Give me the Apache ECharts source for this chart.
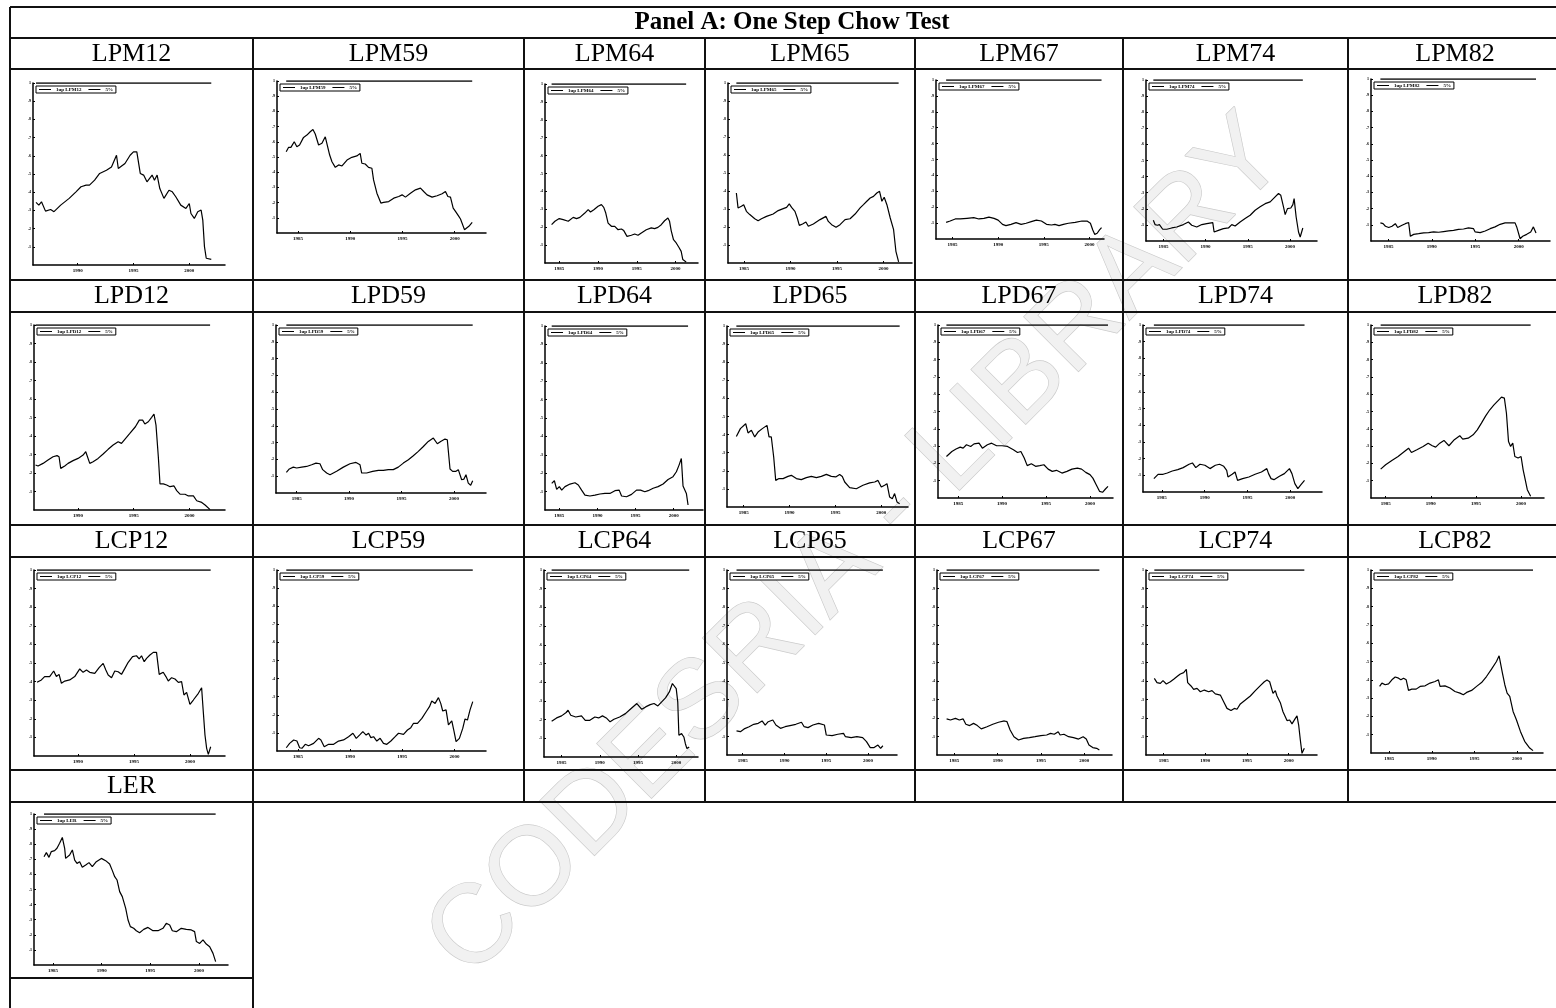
<!DOCTYPE html>
<html>
<head>
<meta charset="utf-8">
<script src="https://cdn.jsdelivr.net/npm/echarts@6/dist/echarts.min.js"></script>
<style>
  html, body { margin: 0; padding: 0; background: #fff; }
  #chart { width: 1556px; height: 1008px; }
</style>
</head>
<body>
<div id="chart"></div>
<script>
// One-step Chow statistics, scaled so that 1 = 5% critical value; x = year.
const lpm12 = [[1986.27,0.344],[1986.52,0.329],[1986.76,0.347],[1987.12,0.296],[1987.58,0.305],[1987.88,0.293],[1988.48,0.329],[1989.24,0.366],[1989.85,0.402],[1990.30,0.430],[1990.76,0.439],[1991.06,0.439],[1991.52,0.466],[1991.97,0.503],[1992.58,0.521],[1993.03,0.539],[1993.48,0.603],[1993.64,0.530],[1994.24,0.558],[1994.70,0.603],[1995.00,0.622],[1995.30,0.622],[1995.61,0.503],[1995.91,0.494],[1996.21,0.457],[1996.67,0.494],[1996.88,0.466],[1997.12,0.494],[1997.36,0.420],[1997.73,0.366],[1998.18,0.411],[1998.48,0.402],[1998.79,0.375],[1999.24,0.329],[1999.70,0.311],[2000.00,0.338],[2000.15,0.283],[2000.45,0.256],[2000.76,0.293],[2001.06,0.302],[2001.21,0.247],[2001.36,0.101],[2001.52,0.037],[2001.67,0.027],[2001.97,0.031]];
const lpm59 = [[1983.88,0.535],[1984.10,0.563],[1984.33,0.563],[1984.65,0.600],[1984.90,0.568],[1985.16,0.579],[1985.54,0.629],[1985.86,0.644],[1986.18,0.666],[1986.44,0.681],[1986.66,0.651],[1986.98,0.579],[1987.30,0.590],[1987.62,0.633],[1987.78,0.629],[1988.04,0.513],[1988.26,0.469],[1988.58,0.432],[1988.90,0.448],[1989.22,0.441],[1989.70,0.480],[1990.16,0.498],[1990.64,0.507],[1990.96,0.524],[1991.12,0.459],[1991.44,0.454],[1991.76,0.432],[1992.08,0.426],[1992.24,0.349],[1992.56,0.262],[1992.94,0.197],[1993.20,0.201],[1993.69,0.207],[1994.17,0.229],[1994.65,0.240],[1994.97,0.251],[1995.29,0.236],[1995.77,0.262],[1996.25,0.284],[1996.73,0.295],[1997.04,0.273],[1997.36,0.251],[1997.84,0.236],[1998.32,0.245],[1998.80,0.258],[1999.12,0.273],[1999.35,0.240],[1999.60,0.236],[1999.86,0.164],[2000.08,0.142],[2000.24,0.153],[2000.40,0.109],[2000.56,0.092],[2000.72,0.092],[2000.94,0.022],[2001.36,0.044],[2001.68,0.070]];
const lpm64 = [[1984.01,0.214],[1984.44,0.233],[1985.00,0.248],[1985.51,0.242],[1986.16,0.233],[1986.80,0.255],[1987.23,0.248],[1987.66,0.255],[1988.30,0.279],[1988.73,0.298],[1989.03,0.285],[1989.46,0.298],[1990.01,0.317],[1990.44,0.326],[1990.74,0.311],[1991.00,0.279],[1991.30,0.223],[1991.73,0.205],[1992.16,0.205],[1992.59,0.186],[1993.02,0.190],[1993.32,0.181],[1993.57,0.192],[1993.74,0.149],[1994.30,0.155],[1994.73,0.162],[1995.16,0.155],[1995.59,0.168],[1996.23,0.186],[1996.87,0.196],[1997.30,0.192],[1997.73,0.199],[1998.16,0.214],[1998.59,0.236],[1999.02,0.251],[1999.23,0.233],[1999.44,0.181],[1999.74,0.130],[2000.09,0.112],[2000.43,0.088],[2000.73,0.065],[2000.94,0.019],[2001.37,0.006]];
const lpm65 = [[1984.17,0.389],[1984.35,0.306],[1984.71,0.315],[1984.96,0.324],[1985.25,0.287],[1985.61,0.269],[1986.15,0.246],[1986.51,0.235],[1986.87,0.246],[1987.41,0.259],[1988.13,0.272],[1988.67,0.291],[1989.21,0.302],[1989.57,0.309],[1989.86,0.328],[1990.11,0.309],[1990.47,0.287],[1990.72,0.250],[1990.94,0.209],[1991.29,0.217],[1991.65,0.228],[1991.91,0.204],[1992.45,0.217],[1993.17,0.241],[1993.81,0.259],[1994.06,0.231],[1994.42,0.213],[1994.89,0.198],[1995.32,0.213],[1995.86,0.241],[1996.40,0.246],[1996.94,0.272],[1997.48,0.306],[1997.84,0.324],[1998.20,0.343],[1998.56,0.361],[1998.92,0.370],[1999.28,0.389],[1999.57,0.398],[1999.82,0.343],[2000.07,0.365],[2000.36,0.324],[2000.72,0.250],[2001.08,0.185],[2001.33,0.065],[2001.62,0.006]];
const lpm67 = [[1984.30,0.105],[1984.74,0.113],[1985.30,0.126],[1985.85,0.126],[1986.59,0.130],[1987.33,0.134],[1987.89,0.126],[1988.44,0.130],[1988.99,0.138],[1989.55,0.130],[1990.00,0.119],[1990.48,0.092],[1990.85,0.084],[1991.41,0.092],[1991.96,0.103],[1992.52,0.092],[1993.07,0.099],[1993.63,0.109],[1994.19,0.119],[1994.74,0.113],[1995.30,0.092],[1995.85,0.088],[1996.22,0.092],[1996.67,0.084],[1997.15,0.092],[1997.70,0.099],[1998.44,0.105],[1999.19,0.113],[1999.74,0.113],[2000.11,0.099],[2000.37,0.057],[2000.59,0.029],[2000.85,0.036],[2001.11,0.057],[2001.33,0.071]];
const lpm74 = [[1983.81,0.129],[1984.01,0.102],[1984.29,0.098],[1984.53,0.102],[1984.68,0.093],[1984.92,0.073],[1985.40,0.073],[1985.99,0.081],[1986.58,0.087],[1987.37,0.102],[1987.96,0.118],[1988.36,0.098],[1988.95,0.087],[1989.55,0.102],[1990.14,0.108],[1990.85,0.114],[1991.01,0.056],[1991.52,0.066],[1992.11,0.077],[1992.71,0.081],[1993.10,0.102],[1993.50,0.093],[1994.09,0.118],[1994.68,0.139],[1995.28,0.160],[1995.87,0.191],[1996.46,0.212],[1997.06,0.232],[1997.65,0.243],[1998.12,0.268],[1998.64,0.295],[1998.91,0.284],[1999.23,0.212],[1999.43,0.164],[1999.70,0.201],[2000.10,0.205],[2000.34,0.226],[2000.49,0.263],[2000.73,0.149],[2001.01,0.056],[2001.21,0.025],[2001.52,0.081]];
const lpm82 = [[1984.08,0.112],[1984.39,0.107],[1984.66,0.091],[1985.04,0.083],[1985.42,0.091],[1985.80,0.107],[1986.07,0.083],[1986.57,0.097],[1986.95,0.107],[1987.33,0.114],[1987.53,0.029],[1987.91,0.041],[1988.48,0.045],[1989.06,0.050],[1989.63,0.052],[1990.20,0.056],[1990.78,0.054],[1991.35,0.058],[1991.93,0.062],[1992.50,0.066],[1993.07,0.072],[1993.65,0.074],[1994.22,0.081],[1994.80,0.076],[1994.99,0.056],[1995.56,0.052],[1996.14,0.062],[1996.71,0.076],[1997.28,0.087],[1997.86,0.103],[1998.43,0.112],[1999.01,0.112],[1999.58,0.112],[1999.77,0.087],[2000.16,0.014],[2000.46,0.029],[2000.92,0.041],[2001.38,0.056],[2001.69,0.087],[2001.99,0.050]];

const lpd12 = [[1986.18,0.243],[1986.40,0.238],[1986.85,0.252],[1987.30,0.270],[1987.75,0.288],[1988.11,0.294],[1988.29,0.288],[1988.44,0.225],[1988.80,0.238],[1989.10,0.252],[1989.55,0.267],[1990.00,0.279],[1990.45,0.297],[1990.69,0.315],[1990.81,0.306],[1991.05,0.252],[1991.35,0.261],[1991.80,0.279],[1992.25,0.303],[1992.70,0.328],[1993.15,0.351],[1993.60,0.369],[1993.90,0.360],[1994.20,0.382],[1994.65,0.414],[1995.15,0.450],[1995.50,0.486],[1995.80,0.486],[1996.00,0.465],[1996.31,0.477],[1996.61,0.501],[1996.82,0.519],[1997.00,0.459],[1997.21,0.288],[1997.36,0.141],[1997.66,0.141],[1997.96,0.135],[1998.26,0.126],[1998.62,0.130],[1998.86,0.105],[1999.16,0.086],[1999.61,0.085],[1999.91,0.076],[2000.36,0.076],[2000.66,0.050],[2001.11,0.041],[2001.41,0.027],[2001.86,0.002]];
const lpd59 = [[1984.02,0.123],[1984.30,0.143],[1984.68,0.154],[1985.00,0.149],[1985.48,0.154],[1985.95,0.158],[1986.43,0.168],[1986.84,0.178],[1987.22,0.174],[1987.48,0.139],[1987.86,0.119],[1988.18,0.109],[1988.81,0.129],[1989.45,0.154],[1990.08,0.174],[1990.66,0.182],[1991.04,0.168],[1991.20,0.119],[1991.67,0.119],[1992.24,0.129],[1992.79,0.135],[1993.26,0.135],[1993.74,0.139],[1994.21,0.139],[1994.69,0.154],[1995.17,0.178],[1995.65,0.198],[1996.12,0.222],[1996.60,0.248],[1997.08,0.277],[1997.55,0.307],[1998.03,0.327],[1998.41,0.293],[1998.73,0.307],[1999.14,0.321],[1999.36,0.317],[1999.62,0.143],[1999.87,0.129],[2000.19,0.129],[2000.41,0.139],[2000.73,0.079],[2000.95,0.083],[2001.14,0.109],[2001.36,0.059],[2001.59,0.046],[2001.78,0.073]];
const lpd64 = [[1984.00,0.145],[1984.35,0.159],[1984.65,0.112],[1985.00,0.127],[1985.31,0.108],[1985.74,0.127],[1986.40,0.141],[1987.05,0.148],[1987.49,0.136],[1987.92,0.108],[1988.36,0.081],[1989.01,0.076],[1989.67,0.081],[1990.32,0.087],[1990.98,0.090],[1991.63,0.090],[1992.29,0.105],[1992.85,0.108],[1993.16,0.076],[1993.81,0.072],[1994.47,0.085],[1995.12,0.108],[1995.65,0.108],[1996.21,0.099],[1996.65,0.105],[1997.30,0.118],[1997.95,0.127],[1998.61,0.141],[1999.26,0.166],[1999.91,0.181],[2000.35,0.208],[2000.70,0.244],[2001.00,0.280],[2001.22,0.130],[2001.44,0.127],[2001.66,0.090],[2001.88,0.027]];
const lpd65 = [[1984.20,0.390],[1984.64,0.433],[1985.22,0.460],[1985.47,0.409],[1985.84,0.424],[1986.20,0.387],[1986.56,0.414],[1987.03,0.433],[1987.54,0.451],[1987.76,0.387],[1988.01,0.387],[1988.27,0.276],[1988.49,0.147],[1988.85,0.157],[1989.29,0.157],[1989.83,0.169],[1990.19,0.175],[1990.74,0.157],[1991.28,0.151],[1991.83,0.162],[1992.37,0.169],[1992.92,0.162],[1993.46,0.169],[1994.01,0.180],[1994.55,0.169],[1995.03,0.166],[1995.46,0.180],[1995.75,0.169],[1996.01,0.138],[1996.55,0.107],[1997.28,0.101],[1998.00,0.120],[1998.73,0.133],[1999.28,0.138],[1999.64,0.147],[2000.00,0.110],[2000.36,0.120],[2000.62,0.129],[2000.91,0.055],[2001.20,0.046],[2001.45,0.074],[2001.71,0.028],[2002.00,0.018]];
const lpd67 = [[1983.67,0.240],[1984.29,0.269],[1984.76,0.283],[1985.24,0.294],[1985.57,0.288],[1985.95,0.308],[1986.43,0.298],[1986.81,0.313],[1987.38,0.317],[1987.76,0.288],[1988.33,0.308],[1988.81,0.317],[1989.38,0.302],[1990.00,0.302],[1990.62,0.298],[1991.29,0.279],[1991.76,0.263],[1992.14,0.269],[1992.52,0.231],[1992.86,0.187],[1993.33,0.198],[1993.81,0.183],[1994.29,0.187],[1994.76,0.192],[1995.24,0.167],[1995.71,0.154],[1996.19,0.160],[1996.81,0.144],[1997.38,0.154],[1997.95,0.167],[1998.57,0.173],[1999.05,0.167],[1999.52,0.148],[2000.00,0.135],[2000.33,0.115],[2000.71,0.077],[2001.10,0.038],[2001.43,0.033],[2001.76,0.052],[2002.05,0.067]];
const lpd74 = [[1984.07,0.080],[1984.56,0.106],[1985.15,0.106],[1985.64,0.114],[1986.22,0.126],[1986.86,0.134],[1987.49,0.146],[1988.18,0.166],[1988.57,0.174],[1988.96,0.146],[1989.45,0.166],[1990.03,0.160],[1990.62,0.140],[1991.25,0.160],[1991.74,0.166],[1992.23,0.154],[1992.57,0.130],[1992.72,0.090],[1993.21,0.106],[1993.55,0.120],[1993.84,0.070],[1994.43,0.080],[1995.16,0.090],[1995.89,0.106],[1996.63,0.120],[1997.26,0.140],[1997.46,0.110],[1997.75,0.080],[1998.09,0.074],[1998.73,0.094],[1999.31,0.110],[1999.90,0.140],[2000.19,0.110],[2000.53,0.050],[2000.88,0.020],[2001.27,0.046],[2001.66,0.070]];
const lpd82 = [[1984.45,0.167],[1985.00,0.192],[1985.69,0.217],[1986.38,0.240],[1987.08,0.269],[1987.54,0.288],[1987.86,0.263],[1988.46,0.279],[1989.15,0.298],[1989.71,0.317],[1990.17,0.302],[1990.54,0.294],[1991.00,0.317],[1991.46,0.333],[1992.01,0.302],[1992.61,0.337],[1993.21,0.360],[1993.54,0.340],[1994.14,0.346],[1994.69,0.365],[1995.15,0.394],[1995.61,0.433],[1996.08,0.475],[1996.54,0.510],[1997.00,0.538],[1997.46,0.563],[1997.83,0.583],[1998.15,0.577],[1998.38,0.490],[1998.61,0.327],[1998.84,0.298],[1999.08,0.317],[1999.31,0.240],[1999.67,0.231],[2000.00,0.240],[2000.23,0.163],[2000.46,0.106],[2000.69,0.048],[2001.06,0.010]];

const lcp12 = [[1986.33,0.396],[1986.72,0.409],[1987.01,0.427],[1987.46,0.427],[1987.82,0.457],[1988.06,0.427],[1988.30,0.439],[1988.51,0.391],[1988.81,0.403],[1989.25,0.409],[1989.70,0.427],[1990.15,0.468],[1990.45,0.450],[1990.75,0.462],[1991.04,0.450],[1991.49,0.444],[1991.88,0.475],[1992.24,0.498],[1992.48,0.462],[1992.69,0.435],[1992.99,0.421],[1993.28,0.457],[1993.58,0.453],[1993.88,0.439],[1994.18,0.471],[1994.48,0.504],[1994.87,0.534],[1995.22,0.539],[1995.46,0.522],[1995.67,0.539],[1995.91,0.507],[1996.12,0.525],[1996.42,0.543],[1996.72,0.557],[1997.01,0.557],[1997.25,0.439],[1997.61,0.450],[1997.85,0.427],[1998.06,0.403],[1998.36,0.421],[1998.66,0.414],[1998.96,0.396],[1999.25,0.400],[1999.46,0.328],[1999.70,0.342],[2000.00,0.278],[2000.30,0.301],[2000.75,0.337],[2001.04,0.367],[2001.19,0.238],[2001.34,0.113],[2001.49,0.041],[2001.64,0.009],[2001.85,0.050]];
const lcp59 = [[1983.88,0.018],[1984.20,0.042],[1984.59,0.061],[1984.90,0.055],[1985.16,0.018],[1985.38,0.015],[1985.70,0.037],[1986.02,0.029],[1986.50,0.042],[1986.98,0.070],[1987.20,0.061],[1987.52,0.024],[1987.94,0.037],[1988.42,0.037],[1988.89,0.055],[1989.37,0.061],[1989.85,0.079],[1990.27,0.098],[1990.59,0.070],[1990.90,0.088],[1991.22,0.107],[1991.54,0.088],[1991.77,0.098],[1991.99,0.074],[1992.25,0.079],[1992.56,0.055],[1992.88,0.070],[1993.20,0.042],[1993.52,0.037],[1993.91,0.055],[1994.32,0.079],[1994.64,0.098],[1995.12,0.092],[1995.50,0.116],[1995.82,0.129],[1996.08,0.153],[1996.46,0.153],[1996.88,0.180],[1997.29,0.217],[1997.61,0.245],[1997.83,0.276],[1998.15,0.263],[1998.47,0.295],[1998.69,0.263],[1998.88,0.221],[1999.20,0.227],[1999.43,0.144],[1999.75,0.166],[1999.97,0.107],[2000.16,0.052],[2000.48,0.070],[2000.80,0.125],[2001.02,0.177],[2001.25,0.171],[2001.50,0.227],[2001.76,0.273]];
const lcp64 = [[1983.70,0.191],[1984.35,0.209],[1985.00,0.220],[1985.60,0.238],[1985.85,0.250],[1986.20,0.223],[1986.85,0.214],[1987.60,0.220],[1988.10,0.196],[1988.70,0.196],[1989.35,0.214],[1989.85,0.209],[1990.35,0.220],[1990.85,0.209],[1991.35,0.188],[1991.85,0.202],[1992.60,0.214],[1993.35,0.232],[1994.10,0.259],[1994.85,0.286],[1995.50,0.255],[1996.00,0.268],[1996.60,0.280],[1997.10,0.286],[1997.60,0.273],[1998.10,0.295],[1998.60,0.316],[1999.10,0.348],[1999.50,0.393],[1999.75,0.402],[2000.00,0.366],[2000.20,0.295],[2000.35,0.116],[2000.70,0.125],[2001.00,0.107],[2001.20,0.071],[2001.40,0.045],[2001.70,0.054]];
const lcp65 = [[1984.27,0.130],[1984.73,0.126],[1985.18,0.141],[1985.78,0.153],[1986.33,0.166],[1986.87,0.171],[1987.33,0.184],[1987.70,0.162],[1988.06,0.180],[1988.61,0.189],[1988.98,0.162],[1989.53,0.144],[1990.08,0.153],[1990.67,0.159],[1991.36,0.166],[1992.04,0.177],[1992.36,0.153],[1992.82,0.148],[1993.41,0.162],[1994.10,0.171],[1994.79,0.162],[1995.01,0.108],[1995.70,0.105],[1996.39,0.112],[1997.07,0.117],[1997.30,0.099],[1997.99,0.094],[1998.67,0.099],[1999.36,0.094],[1999.82,0.072],[2000.27,0.040],[2000.73,0.040],[2001.19,0.054],[2001.51,0.036],[2001.78,0.050]];
const lcp67 = [[1984.11,0.195],[1984.55,0.189],[1985.13,0.198],[1985.58,0.189],[1986.02,0.195],[1986.33,0.166],[1986.77,0.159],[1987.22,0.171],[1987.66,0.159],[1988.11,0.141],[1988.77,0.153],[1989.44,0.166],[1990.10,0.177],[1990.77,0.184],[1991.08,0.180],[1991.44,0.135],[1991.88,0.099],[1992.41,0.081],[1992.99,0.090],[1993.66,0.094],[1994.32,0.099],[1994.99,0.105],[1995.66,0.108],[1996.10,0.117],[1996.54,0.112],[1996.99,0.126],[1997.21,0.108],[1997.65,0.112],[1998.19,0.099],[1998.76,0.094],[1999.34,0.086],[1999.87,0.099],[2000.23,0.086],[2000.54,0.054],[2000.98,0.040],[2001.43,0.036],[2001.74,0.027]];
const lcp74 = [[1983.88,0.414],[1984.20,0.391],[1984.60,0.387],[1984.92,0.402],[1985.32,0.384],[1985.80,0.396],[1986.20,0.409],[1986.68,0.427],[1987.00,0.438],[1987.40,0.445],[1987.72,0.463],[1987.88,0.391],[1988.28,0.373],[1988.60,0.355],[1989.00,0.360],[1989.40,0.342],[1989.88,0.351],[1990.40,0.342],[1990.80,0.348],[1991.20,0.330],[1991.80,0.324],[1992.20,0.288],[1992.60,0.252],[1993.08,0.240],[1993.48,0.252],[1993.80,0.247],[1994.20,0.276],[1994.80,0.297],[1995.40,0.319],[1996.00,0.348],[1996.60,0.375],[1997.08,0.396],[1997.40,0.405],[1997.72,0.396],[1997.96,0.391],[1998.12,0.333],[1998.40,0.348],[1998.60,0.319],[1999.00,0.283],[1999.32,0.234],[1999.80,0.186],[2000.12,0.189],[2000.40,0.168],[2000.80,0.198],[2001.00,0.211],[2001.20,0.162],[2001.40,0.081],[2001.60,0.009],[2001.88,0.036]];
const lcp82 = [[1983.87,0.364],[1984.14,0.382],[1984.53,0.373],[1984.92,0.378],[1985.31,0.400],[1985.70,0.415],[1986.09,0.409],[1986.36,0.400],[1986.68,0.409],[1986.99,0.400],[1987.26,0.342],[1987.65,0.349],[1988.16,0.349],[1988.62,0.364],[1989.21,0.367],[1989.79,0.382],[1990.38,0.391],[1990.77,0.400],[1990.96,0.364],[1991.54,0.367],[1992.13,0.355],[1992.71,0.336],[1993.30,0.327],[1993.69,0.318],[1994.08,0.331],[1994.66,0.342],[1995.25,0.364],[1995.83,0.385],[1996.41,0.418],[1997.00,0.458],[1997.58,0.500],[1997.89,0.531],[1998.05,0.536],[1998.28,0.436],[1998.56,0.373],[1998.83,0.327],[1999.14,0.309],[1999.53,0.227],[1999.92,0.182],[2000.39,0.118],[2000.89,0.064],[2001.48,0.027],[2001.87,0.013]];

const ler = [[1984.08,0.717],[1984.32,0.744],[1984.59,0.713],[1984.83,0.751],[1985.17,0.757],[1985.41,0.773],[1985.68,0.806],[1985.96,0.845],[1986.20,0.773],[1986.30,0.706],[1986.71,0.728],[1986.99,0.762],[1987.23,0.695],[1987.47,0.673],[1987.74,0.684],[1988.01,0.647],[1988.36,0.662],[1988.70,0.678],[1989.04,0.651],[1989.45,0.684],[1989.97,0.706],[1990.41,0.691],[1990.82,0.669],[1991.10,0.625],[1991.34,0.585],[1991.58,0.563],[1991.85,0.486],[1992.12,0.453],[1992.47,0.375],[1992.71,0.298],[1992.95,0.254],[1993.29,0.243],[1993.56,0.227],[1993.90,0.214],[1994.32,0.236],[1994.76,0.249],[1995.27,0.227],[1995.79,0.227],[1996.30,0.243],[1996.64,0.276],[1996.99,0.265],[1997.26,0.227],[1997.67,0.221],[1998.18,0.243],[1998.70,0.236],[1999.21,0.232],[1999.55,0.221],[1999.73,0.155],[2000.07,0.143],[2000.41,0.166],[2000.75,0.139],[2001.10,0.121],[2001.44,0.077],[2001.71,0.022]];

// Panel order (row by row) and the series drawn in each panel
const panelNames = ['LPM12','LPM59','LPM64','LPM65','LPM67','LPM74','LPM82',
                    'LPD12','LPD59','LPD64','LPD65','LPD67','LPD74','LPD82',
                    'LCP12','LCP59','LCP64','LCP65','LCP67','LCP74','LCP82',
                    'LER'];
const panelData = {
  LPM12: lpm12, LPM59: lpm59, LPM64: lpm64, LPM65: lpm65, LPM67: lpm67, LPM74: lpm74, LPM82: lpm82,
  LPD12: lpd12, LPD59: lpd59, LPD64: lpd64, LPD65: lpd65, LPD67: lpd67, LPD74: lpd74, LPD82: lpd82,
  LCP12: lcp12, LCP59: lcp59, LCP64: lcp64, LCP65: lcp65, LCP67: lcp67, LCP74: lcp74, LCP82: lcp82,
  LER: ler
};
// x-axis extent (years) of each panel
const xExtent = {
  LPM12: [1986.0, 2003.2], LPM59: [1983.0, 2003.0], LPM64: [1983.16, 2002.9], LPM65: [1983.27, 2003.06],
  LPM67: [1983.19, 2001.6], LPM74: [1982.94, 2003.2], LPM82: [1983.0, 2003.6],
  LPD12: [1986.04, 2003.2], LPD59: [1983.03, 2003.05], LPD64: [1983.12, 2003.84], LPD65: [1983.18, 2002.91],
  LPD67: [1982.71, 2002.62], LPD74: [1982.8, 2003.7], LPD82: [1983.38, 2002.54],
  LCP12: [1986.06, 2003.13], LCP59: [1982.99, 2003.03], LCP64: [1982.7, 2002.85], LCP65: [1983.13, 2003.47],
  LCP67: [1983.0, 2003.2], LCP74: [1982.88, 2003.4], LCP82: [1982.86, 2003.04],
  LER: [1983.05, 2002.98]
};
const yearTicks = [1985, 1990, 1995, 2000];
const statTicks = [0.1, 0.2, 0.3, 0.4, 0.5, 0.6, 0.7, 0.8, 0.9, 1];
const critLabel = '5%';
const panelTitle = 'Panel A: One Step Chow Test';
const watermark = 'CODESRIA - LIBRARY';

// ---- layout (pixels) ----
// plot box of each panel: [left, top, right, bottom]
const plotBox = {
  LPM12: [33, 83, 225, 265], LPM59: [277, 81, 486, 233], LPM64: [545, 84, 698, 263], LPM65: [728, 83, 912, 263],
  LPM67: [936, 80, 1104, 239], LPM74: [1146, 80, 1317, 241], LPM82: [1371, 79, 1550, 241],
  LPD12: [34, 325, 225, 510], LPD59: [276, 325, 486, 493], LPD64: [545, 326, 703, 510], LPD65: [727, 326, 908, 507],
  LPD67: [938, 325, 1113, 498], LPD74: [1143, 325, 1322, 492], LPD82: [1371, 325, 1544, 498],
  LCP12: [34, 570, 225, 756], LCP59: [277, 570, 486, 751], LCP64: [544, 570, 698, 757], LCP65: [727, 570, 897, 755],
  LCP67: [937, 570, 1112, 755], LCP74: [1146, 570, 1317, 755], LCP82: [1371, 570, 1543, 753],
  LER: [34, 814, 228, 965]
};
const colX = [10, 253, 524, 705, 915, 1123, 1348];
const colCenter = [131.5, 388.5, 614.5, 810, 1019, 1235.5, 1455];
const headerY = [54, 296, 541, 786];

const SERIF = '"Liberation Serif", "Times New Roman", serif';
const grid = [], xAxis = [], yAxis = [], series = [], legend = [];

panelNames.forEach((name, i) => {
  const [l, t, r, b] = plotBox[name];
  const [x0, x1] = xExtent[name];
  const years = yearTicks.filter(y => y >= x0 && y <= x1);
  const data = panelData[name];
  const statName = '1up ' + name;

  grid.push({ left: l, top: t, width: r - l, height: b - t });
  xAxis.push({
    type: 'value', gridIndex: i, min: x0, max: x1,
    axisLine: { onZero: false, lineStyle: { color: '#000', width: 1.5 } },
    axisTick: { inside: true, length: 2, customValues: years, lineStyle: { color: '#000', width: 1 } },
    axisLabel: {
      customValues: years, fontSize: 5, fontWeight: 'bold', color: '#000', margin: 3, fontFamily: SERIF,
      formatter: v => String(Math.round(v))
    },
    splitLine: { show: false }
  });
  yAxis.push({
    type: 'value', gridIndex: i, min: 0, max: 1,
    axisLine: { show: true, onZero: false, lineStyle: { color: '#000', width: 1.5 } },
    axisTick: { show: true, inside: true, length: 2, customValues: statTicks, lineStyle: { color: '#000', width: 1 } },
    axisLabel: {
      customValues: statTicks, fontSize: 4, fontWeight: 'bold', color: '#000', margin: 2, fontFamily: SERIF,
      formatter: v => (v >= 1 ? '1' : '.' + Math.round(v * 10))
    },
    splitLine: { show: false }
  });
  series.push({
    type: 'line', name: statName, xAxisIndex: i, yAxisIndex: i, data: data,
    symbol: 'none', silent: true, animation: false,
    lineStyle: { color: '#000', width: 1.2 }, itemStyle: { color: '#000' }
  });
  series.push({
    type: 'line', name: critLabel, xAxisIndex: i, yAxisIndex: i,
    data: [[data[0][0], 1], [data[data.length - 1][0], 1]],
    symbol: 'none', silent: true, animation: false,
    lineStyle: { color: '#000', width: 1.5 }, itemStyle: { color: '#000' }
  });
  legend.push({
    data: [statName, critLabel], left: l + 3, top: t + 3, orient: 'horizontal',
    icon: 'rect', itemWidth: 12, itemHeight: 1, itemGap: 7, padding: [1, 3],
    borderColor: '#000', borderWidth: 1, backgroundColor: '#fff', selectedMode: false,
    textStyle: { fontSize: 5, color: '#000', fontFamily: SERIF, fontWeight: 'bold' }
  });
});

// ---- table rules and headings ----
const graphic = [];
const rule = (x1, y1, x2, y2) => graphic.push({
  type: 'line', silent: true, z: 5,
  shape: { x1, y1, x2, y2 }, style: { stroke: '#111', lineWidth: 2 }
});
[7, 38, 69, 280, 312, 525, 557, 770, 802].forEach(y => rule(10, y, 1556, y));
rule(10, 978, 253, 978);
rule(10, 7, 10, 1008);
rule(253, 38, 253, 1008);
colX.slice(2).forEach(x => rule(x, 38, x, 802));

const txt = (s, x, y, size, weight) => graphic.push({
  type: 'text', silent: true, z: 5, x, y,
  style: {
    text: s, fontSize: size, fontWeight: weight || 'normal', fontFamily: SERIF, fill: '#000',
    align: 'center', verticalAlign: 'middle', textAlign: 'center', textVerticalAlign: 'middle'
  }
});
txt(panelTitle, 792, 23, 25, 'bold');
panelNames.forEach((name, i) => {
  const row = Math.floor(i / 7), col = i % 7;
  txt(name, colCenter[col], headerY[row], 26);
});

// faint diagonal library stamp behind everything
graphic.push({
  type: 'text', silent: true, z: -10, x: 858, y: 548, rotation: Math.PI / 4,
  style: {
    text: watermark, fontSize: 112, fontFamily: '"Liberation Sans", Arial, sans-serif',
    fill: '#f1f1f1', stroke: '#cacaca', lineWidth: 1.3,
    align: 'center', verticalAlign: 'middle', textAlign: 'center', textVerticalAlign: 'middle'
  }
});

const chart = echarts.init(document.getElementById('chart'), null, { renderer: 'canvas' });
chart.setOption({
  backgroundColor: '#fff',
  animation: false,
  grid, xAxis, yAxis, series, legend, graphic
});
</script>
</body>
</html>
